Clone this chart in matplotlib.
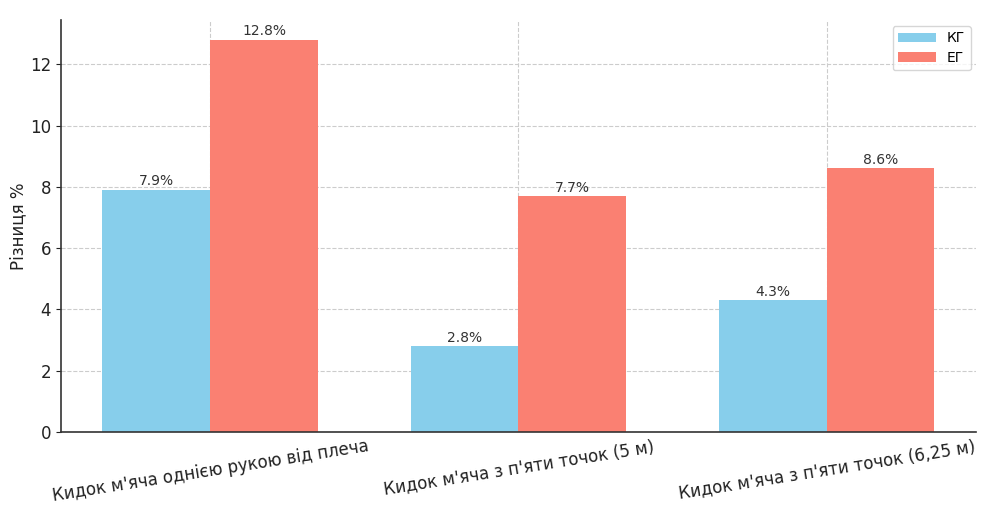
import numpy as np
import matplotlib.pyplot as plt

# Test names and percentage differences for the two groups
categories = [
    "Кидок м'яча однією рукою від плеча",
    "Кидок м'яча з п'яти точок (5 м)",
    "Кидок м'яча з п'яти точок (6,25 м)",
]
kg_values = [7.9, 2.8, 4.3]
eg_values = [12.8, 7.7, 8.6]
series_labels = ["КГ", "ЕГ"]

x = np.arange(len(categories))
width = 0.35

fig = plt.figure(figsize=(9.81, 5.05), dpi=100)
ax = fig.add_axes([0.062, 0.145, 0.933, 0.815])

bars_kg = ax.bar(x - width / 2, kg_values, width, label=series_labels[0], color="skyblue")
bars_eg = ax.bar(x + width / 2, eg_values, width, label=series_labels[1], color="salmon")

for bars in (bars_kg, bars_eg):
    for bar in bars:
        h = bar.get_height()
        ax.annotate(f"{h}%", (bar.get_x() + bar.get_width() / 2, h),
                    xytext=(0, 1), textcoords="offset points",
                    ha="center", va="bottom", fontsize=10, color="#333333")

ax.set_xticks(x)
ax.set_xticklabels(categories, rotation=9, ha="center", fontsize=12, color="#222222")
ax.tick_params(axis="y", labelsize=12, colors="#222222")
ax.tick_params(axis="x", length=0, pad=4)
ax.set_ylabel("Різниця %", fontsize=12, color="#222222", labelpad=2)

ax.grid(True, linestyle="--", color="#cccccc", linewidth=0.8)
ax.set_axisbelow(True)
for side in ("top", "right"):
    ax.spines[side].set_visible(False)
for side in ("left", "bottom"):
    ax.spines[side].set_color("#333333")
    ax.spines[side].set_linewidth(1.2)

ax.legend(loc="upper right", fontsize=10, handlelength=2.7,
          borderaxespad=0.4, labelspacing=0.4)

fig.savefig("out.png", dpi=100)
